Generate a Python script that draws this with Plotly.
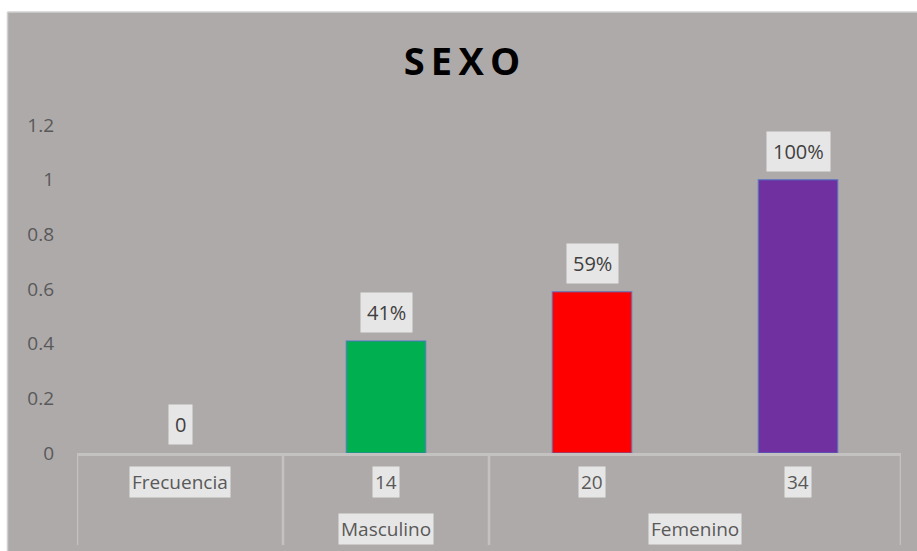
import plotly.graph_objects as go

# ---- data ----
categories = ["Frecuencia", "14", "20", "34"]
values = [0, 0.41, 0.59, 1.0]
data_labels = ["0", "41%", "59%", "100%"]
bar_colors = ["#00B050", "#00B050", "#FF0000", "#7030A0"]
group_names = ["", "Masculino", "Femenino"]
group_members = [[0], [1], [2, 3]]
y_ticks = [0, 0.2, 0.4, 0.6, 0.8, 1.0, 1.2]

BG = "#AEAAAA"
LABEL_BG = "#E7E6E6"
LINE = "#C4C1C1"
FONT = "Open Sans"

W, H = 917, 551
ML, MR, MT, MB = 77, 16, 125, 98
PH = H - MT - MB
PW = W - ML - MR

x_pos = list(range(len(categories)))

fig = go.Figure()
fig.add_trace(go.Bar(
    x=x_pos, y=values, width=0.385,
    marker=dict(color=bar_colors,
                line=dict(color="rgba(75,115,200,0.6)", width=[1.5 if v > 0 else 0 for v in values])),
    hoverinfo="skip", showlegend=False,
))

annotations = []
# data labels
for xi, v, t in zip(x_pos, values, data_labels):
    annotations.append(dict(x=xi, y=v, xref="x", yref="y", text=t, showarrow=False,
                            yanchor="bottom", yshift=8, bgcolor=LABEL_BG, borderpad=6,
                            font=dict(family=FONT, size=20, color="#404040")))
# level-1 category labels
for xi, c in zip(x_pos, categories):
    annotations.append(dict(x=xi, y=-0.0884, xref="x", yref="paper", text=c, showarrow=False,
                            yanchor="middle", bgcolor=LABEL_BG, borderpad=2,
                            font=dict(family=FONT, size=19, color="#595959")))
# level-2 group labels
for name, members in zip(group_names, group_members):
    if name:
        xm = sum(members) / len(members)
        annotations.append(dict(x=xm, y=-0.2317, xref="x", yref="paper", text=name, showarrow=False,
                                yanchor="middle", bgcolor=LABEL_BG, borderpad=2,
                                font=dict(family=FONT, size=19, color="#595959")))

top_edge = 1 + (MT - 12) / PH
left_edge = -(ML - 7.5) / PW
shapes = [
    # white strips above / left of the chart area + its light border
    dict(type="rect", xref="paper", yref="paper", x0=-0.2, x1=1.2, y0=top_edge, y1=top_edge + 0.1,
         fillcolor="white", line=dict(width=0), layer="below"),
    dict(type="rect", xref="paper", yref="paper", x0=-0.2, x1=left_edge, y0=-0.5, y1=top_edge + 0.1,
         fillcolor="white", line=dict(width=0), layer="below"),
    dict(type="line", xref="paper", yref="paper", x0=left_edge, x1=1.2, y0=top_edge, y1=top_edge,
         line=dict(color="#D0D0D0", width=1.5), layer="below"),
    dict(type="line", xref="paper", yref="paper", x0=left_edge, x1=left_edge, y0=-0.5, y1=top_edge,
         line=dict(color="#D0D0D0", width=1.5), layer="below"),
]
# group dividers
bounds = [members[0] - 0.5 for members in group_members] + [group_members[-1][-1] + 0.5]
for b in bounds:
    shapes.append(dict(type="line", xref="x", yref="paper", x0=b, x1=b, y0=0, y1=-0.2805,
                       line=dict(color=LINE, width=2.5)))

fig.update_layout(
    width=W, height=H,
    margin=dict(l=ML, r=MR, t=MT, b=MB),
    paper_bgcolor=BG, plot_bgcolor="rgba(0,0,0,0)",
    title=dict(text="S\u2009E\u2009X\u2009O", x=(7 + W) / 2 / W, xanchor="center", y=1 - 62 / H,
               yanchor="middle", xref="container", yref="container",
               font=dict(family=FONT, size=38, color="black", weight="bold")),
    xaxis=dict(range=[-0.5, 3.5], showticklabels=False, showgrid=False, zeroline=False,
               showline=True, linecolor=LINE, linewidth=2.5, fixedrange=True),
    yaxis=dict(range=[0, 1.2], tickvals=y_ticks, showgrid=False, zeroline=False, showline=False,
               ticks="", ticklabelstandoff=22,
               tickfont=dict(family=FONT, size=19, color="#595959"), fixedrange=True),
    annotations=annotations, shapes=shapes, bargap=0.6,
)

fig.write_html("out.html", config={"displayModeBar": False},
               post_script="document.body.style.margin='0';document.body.style.overflow='hidden';")
